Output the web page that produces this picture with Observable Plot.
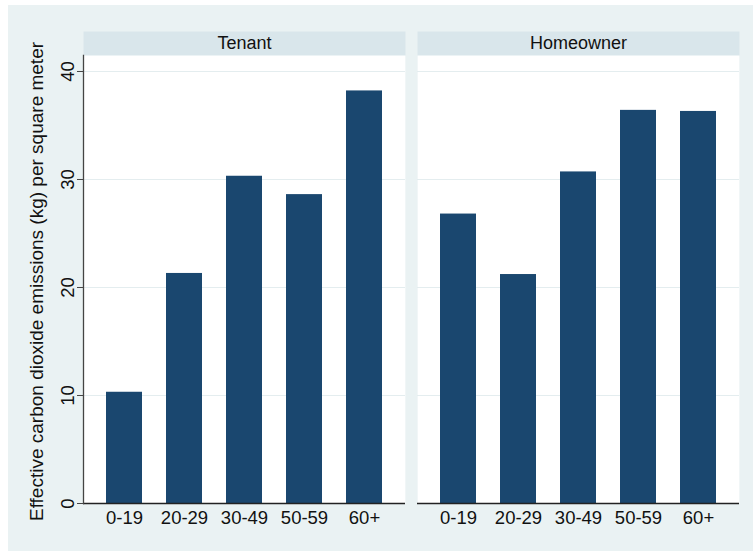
<!DOCTYPE html>
<html>
<head>
<meta charset="utf-8">
<script src="https://cdn.jsdelivr.net/npm/d3@7"></script>
<script src="https://cdn.jsdelivr.net/npm/@observablehq/plot@0.6"></script>
<style>
  html, body { margin: 0; padding: 0; background: #ffffff; }
  #chart { position: absolute; left: 8px; top: 5px; width: 745px; height: 546px; background: #EAF2F3; }
  #chart svg { display: block; }
</style>
</head>
<body>
<div id="chart"></div>
<script>
const ageGroups = ["0-19", "20-29", "30-49", "50-59", "60+"];
const tenures = ["Tenant", "Homeowner"];
const tenantValues = [10.3, 21.3, 30.3, 28.6, 38.2];
const homeownerValues = [26.8, 21.2, 30.7, 36.4, 36.3];
const yTicks = [0, 10, 20, 30, 40];
const yLabel = "Effective carbon dioxide emissions (kg) per square meter";

const rows = [];
ageGroups.forEach((a, i) => rows.push({tenure: "Tenant", age: a, value: tenantValues[i]}));
ageGroups.forEach((a, i) => rows.push({tenure: "Homeowner", age: a, value: homeownerValues[i]}));

const navy = "#1A476F";
const headerFill = "#D9E6EB";

const chart = Plot.plot({
  width: 745,
  height: 546,
  marginLeft: 75,
  marginRight: 14,
  marginTop: 50,
  marginBottom: 48,
  style: {background: "transparent", fontFamily: "'Liberation Sans', Arial, Helvetica, sans-serif", fontSize: "18px", color: "#111"},
  fx: {domain: tenures, paddingInner: 12 / 334, paddingOuter: 0, axis: null},
  x: {domain: ageGroups, paddingInner: 0.4, paddingOuter: 0.383, axis: null},
  y: {domain: [0, 41.48], axis: null},
  marks: [
    Plot.frame({fill: headerFill, stroke: null, insetTop: -24}),
    Plot.frame({fill: "white", stroke: null}),
    Plot.gridY(yTicks, {stroke: "#E4EDEF", strokeOpacity: 1, strokeWidth: 1.2}),
    Plot.text(tenures, {fx: d => d, text: d => d, frameAnchor: "top", dy: -12, lineAnchor: "middle", fontSize: 18, fill: "#111"}),
    Plot.barY(rows, {fx: "tenure", x: "age", y: "value", fill: navy}),
    Plot.ruleY([0], {stroke: "#222", strokeWidth: 1.3}),
    Plot.frame({anchor: "left", facetAnchor: "left", stroke: "#444", strokeWidth: 1.3}),
    Plot.axisY(yTicks, {anchor: "left", facetAnchor: "left", tickSize: 6, tickPadding: 4, tickRotate: -90, fontSize: 18.5, stroke: "#444", label: null}),
    Plot.text([yLabel], {frameAnchor: "left", facetAnchor: "left", rotate: -90, dx: -47, dy: 2, textAnchor: "middle", lineAnchor: "middle", fontSize: 19, fill: "#111"}),
    Plot.axisX({anchor: "bottom", tickSize: 0, tickPadding: 7, fontSize: 18.5, label: null})
  ]
});
document.getElementById("chart").appendChild(chart);
</script>
</body>
</html>
